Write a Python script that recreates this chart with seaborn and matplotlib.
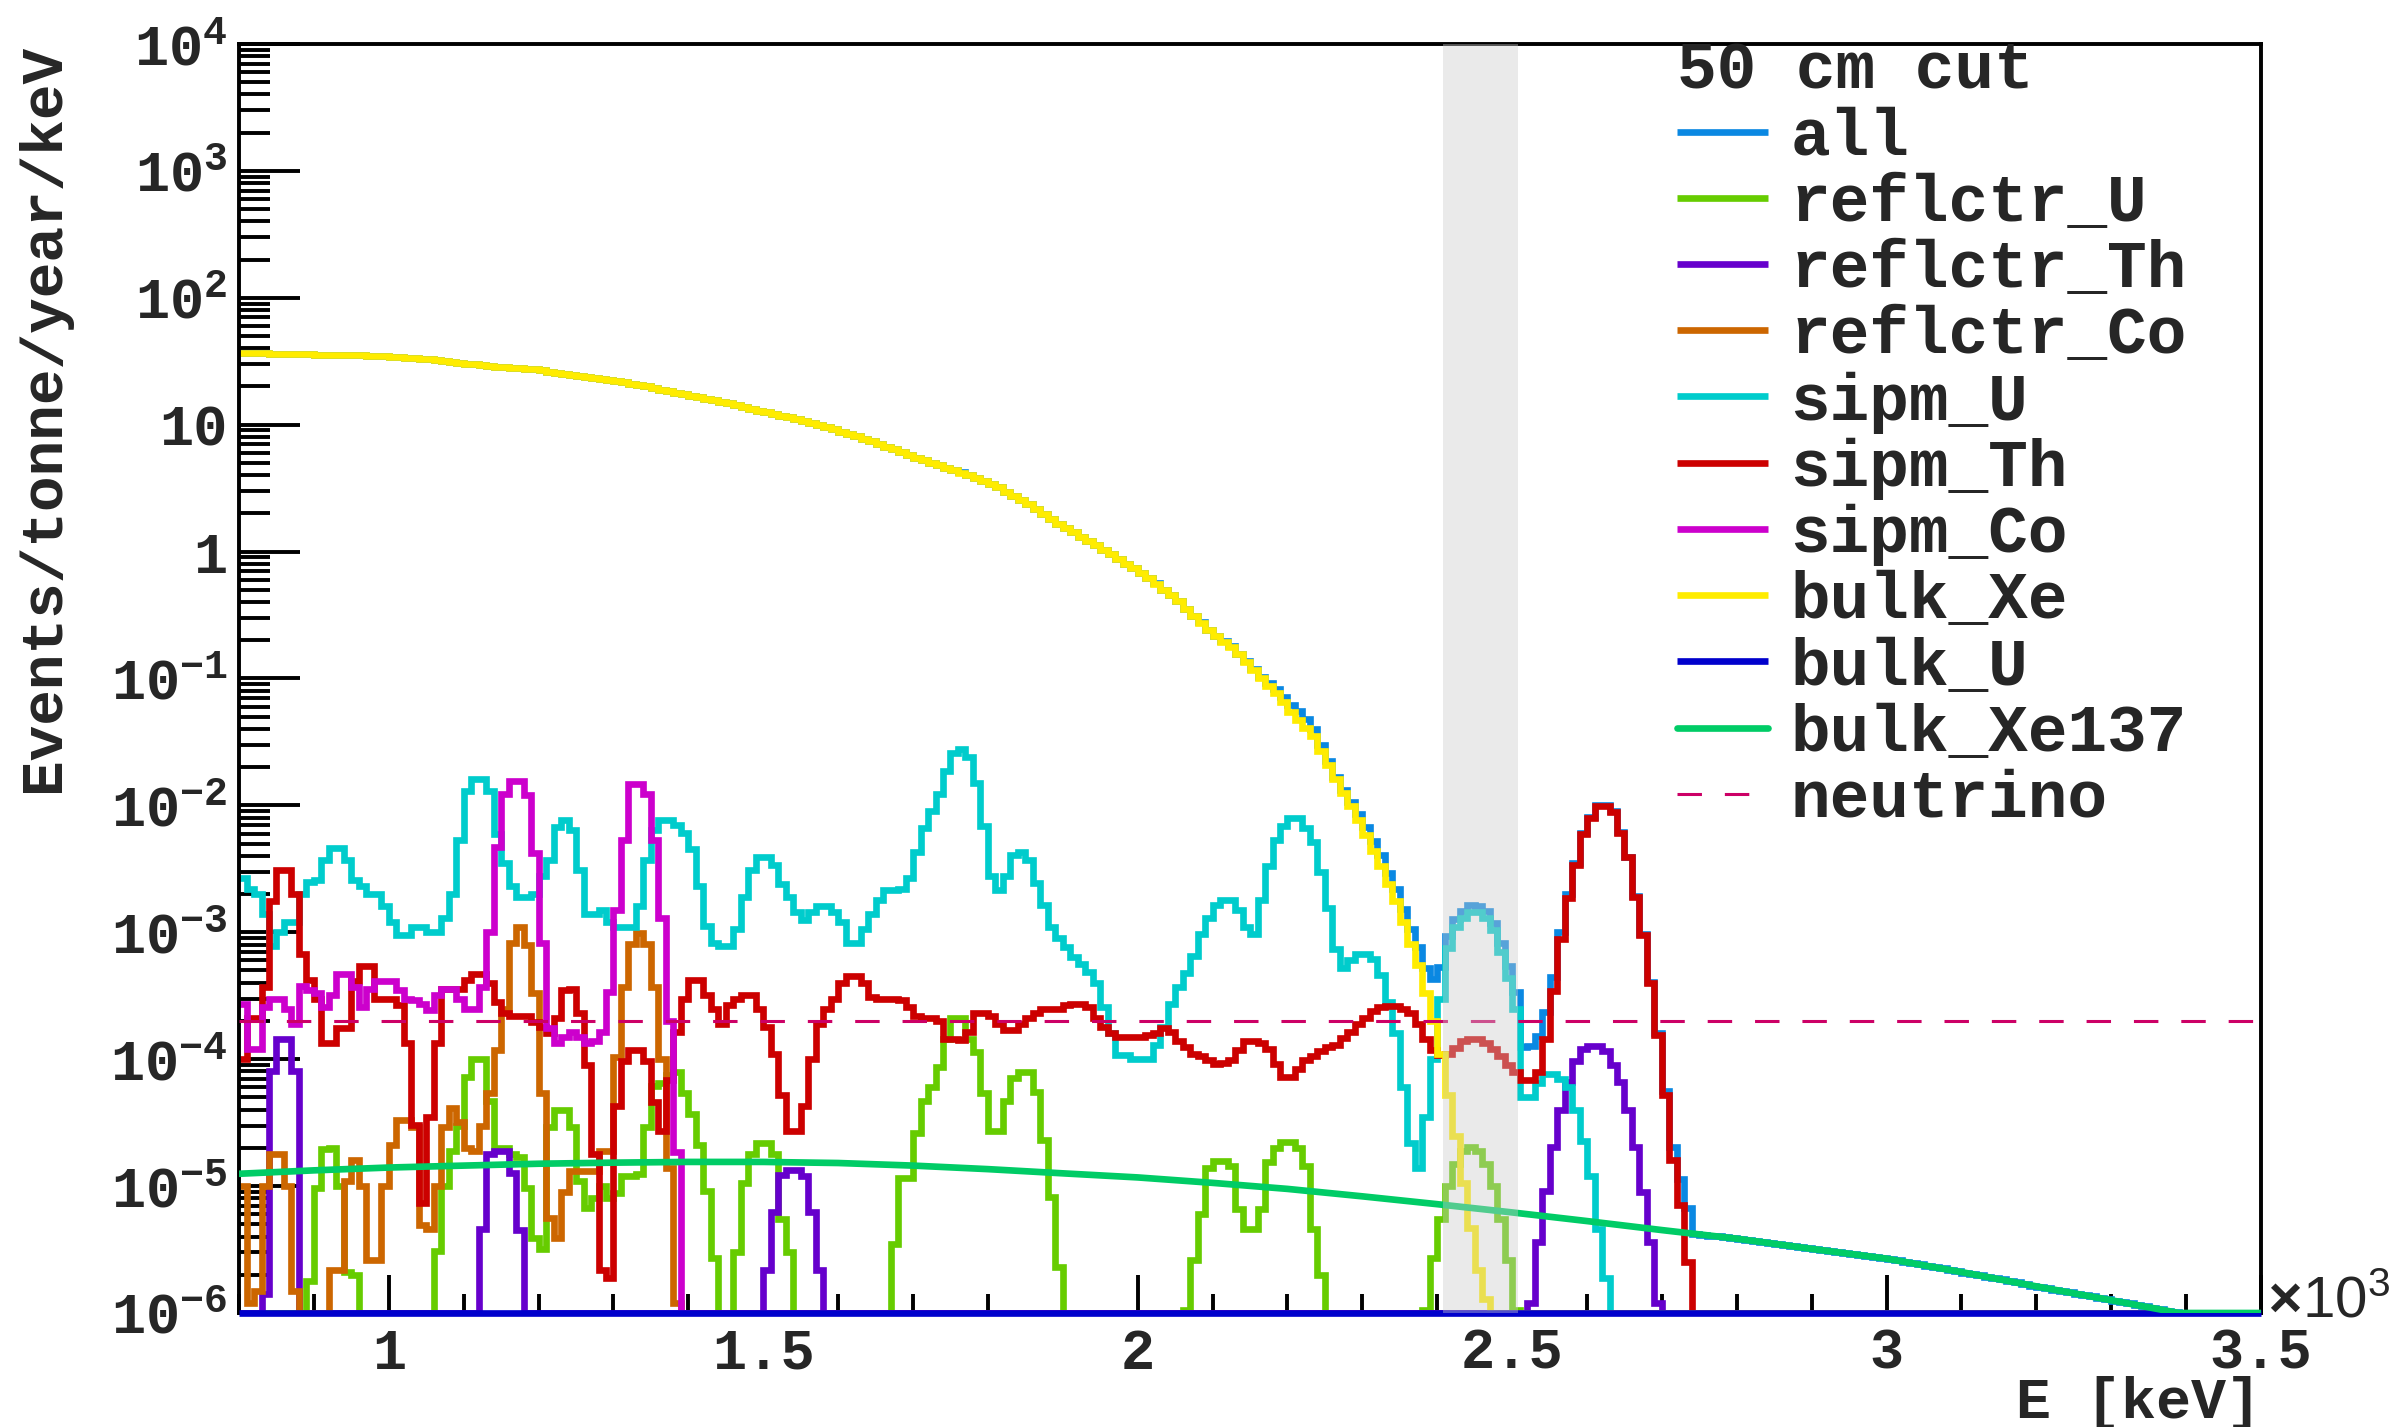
import numpy as np
import pandas as pd
import matplotlib
matplotlib.use("Agg")
import matplotlib.pyplot as plt
from matplotlib import ticker
import seaborn as sns

# ------------------------------------------------------------------ data
E_LO, E_HI, BIN_W = 800, 3500, 10          # keV, 10 keV bins
Y_FLOOR, Y_TOP = 1e-6, 1e4

legend_title = "50 cm cut"
series_names = ["all", "reflctr_U", "reflctr_Th", "reflctr_Co", "sipm_U",
                "sipm_Th", "sipm_Co", "bulk_Xe", "bulk_U", "bulk_Xe137",
                "neutrino"]

# sipm_U, bins starting at 800 keV
sipm_U_start = 800
sipm_U = [
    2.66e-3, 2.2e-3, 2.0e-3, 1.4e-3, 7.8e-4, 1.0e-3, 1.2e-3, 1.2e-3, 2.0e-3, 2.5e-3,
    2.6e-3, 3.7e-3, 4.6e-3, 4.6e-3, 3.7e-3, 2.6e-3, 2.3e-3, 2.0e-3, 2.0e-3, 1.6e-3,
    1.2e-3, 9.5e-4, 9.5e-4, 1.1e-3, 1.1e-3, 1.0e-3, 1.0e-3, 1.3e-3, 2.0e-3, 5.3e-3,
    1.3e-2, 1.6e-2, 1.6e-2, 1.3e-2, 5.9e-3, 3.5e-3, 2.3e-3, 1.9e-3, 1.9e-3, 2.0e-3,
    2.8e-3, 3.7e-3, 6.7e-3, 7.6e-3, 6.4e-3, 3.1e-3, 1.4e-3, 1.4e-3, 1.5e-3, 1.2e-3,
    1.1e-3, 1.1e-3, 1.1e-3, 1.6e-3, 3.7e-3, 6.4e-3, 7.6e-3, 7.6e-3, 7.0e-3, 6.1e-3,
    4.5e-3, 2.3e-3, 1.13e-3, 8.3e-4, 7.8e-4, 7.8e-4, 1.06e-3, 1.9e-3, 3.1e-3, 3.9e-3,
    3.9e-3, 3.4e-3, 2.4e-3, 1.9e-3, 1.45e-3, 1.25e-3, 1.45e-3, 1.6e-3, 1.6e-3, 1.45e-3,
    1.2e-3, 8.3e-4, 8.3e-4, 1.06e-3, 1.4e-3, 1.8e-3, 2.15e-3, 2.15e-3, 2.2e-3, 2.7e-3,
    4.3e-3, 6.6e-3, 9.1e-3, 1.24e-2, 1.88e-2, 2.6e-2, 2.8e-2, 2.4e-2, 1.5e-2, 6.9e-3,
    2.8e-3, 2.15e-3, 2.8e-3, 4.1e-3, 4.3e-3, 3.7e-3, 2.45e-3, 1.65e-3, 1.1e-3, 9.0e-4,
    7.6e-4, 6.4e-4, 5.6e-4, 4.9e-4, 4.0e-4, 2.6e-4, 1.6e-4, 1.07e-4, 1.07e-4, 1.0e-4,
    1.0e-4, 1.0e-4, 1.3e-4, 1.8e-4, 2.7e-4, 3.7e-4, 4.8e-4, 6.5e-4, 9.7e-4, 1.3e-3,
    1.63e-3, 1.78e-3, 1.78e-3, 1.5e-3, 1.1e-3, 9.7e-4, 1.78e-3, 3.3e-3, 5.3e-3, 6.9e-3,
    7.9e-3, 7.9e-3, 6.6e-3, 5.1e-3, 3.0e-3, 1.56e-3, 7.4e-4, 5.2e-4, 6.0e-4, 6.8e-4,
    6.8e-4, 6.2e-4, 4.6e-4, 2.8e-4, 1.6e-4, 6.0e-5, 2.2e-5, 1.4e-5, 3.5e-5, 1.0e-4,
    3.0e-4, 7.5e-4, 1.1e-3, 1.3e-3, 1.45e-3, 1.45e-3, 1.3e-3, 1.05e-3, 7.0e-4, 4.4e-4,
    2.5e-4, 5.0e-5, 5.0e-5, 6.5e-5, 7.6e-5, 7.6e-5, 7.0e-5, 6.0e-5, 4.0e-5, 2.26e-5,
    1.2e-5, 4.6e-6, 1.9e-6,
]

sipm_Th_start = 800
sipm_Th = [
    1.0e-4, 2.1e-4, 2.1e-4, 3.7e-4, 1.75e-3, 3.1e-3, 3.1e-3, 2.0e-3, 6.8e-4, 4.2e-4,
    3.0e-4, 1.35e-4, 1.35e-4, 1.75e-4, 1.75e-4, 4.1e-4, 5.4e-4, 5.4e-4, 3.0e-4, 3.0e-4,
    3.0e-4, 2.65e-4, 1.35e-4, 3.05e-5, 7.4e-6, 3.5e-5, 1.35e-4, 3.6e-4, 3.6e-4, 3.6e-4,
    4.2e-4, 4.7e-4, 4.7e-4, 4.0e-4, 2.8e-4, 2.3e-4, 2.2e-4, 2.2e-4, 2.2e-4, 1.95e-4,
    1.8e-4, 1.6e-4, 2.1e-4, 3.5e-4, 3.6e-4, 2.3e-4, 9.0e-5, 1.8e-5, 2.2e-6, 1.9e-6,
    4.3e-5, 9.6e-5, 1.18e-4, 1.18e-4, 9.6e-5, 4.6e-5, 2.7e-5, 6.9e-5, 1.65e-4, 3.0e-4,
    4.2e-4, 4.2e-4, 3.2e-4, 2.5e-4, 1.9e-4, 2.65e-4, 3.0e-4, 3.2e-4, 3.2e-4, 2.5e-4,
    1.8e-4, 1.1e-4, 5.2e-5, 2.7e-5, 2.7e-5, 4.3e-5, 1.0e-4, 1.9e-4, 2.5e-4, 3.0e-4,
    4.0e-4, 4.55e-4, 4.55e-4, 4.0e-4, 3.1e-4, 3.0e-4, 3.0e-4, 3.0e-4, 2.9e-4, 2.6e-4,
    2.2e-4, 2.1e-4, 2.1e-4, 2.0e-4, 1.45e-4, 1.45e-4, 1.42e-4, 1.65e-4, 2.3e-4, 2.3e-4,
    2.2e-4, 1.9e-4, 1.7e-4, 1.7e-4, 1.9e-4, 2.1e-4, 2.3e-4, 2.5e-4, 2.5e-4, 2.5e-4,
    2.65e-4, 2.7e-4, 2.7e-4, 2.6e-4, 2.1e-4, 1.8e-4, 1.6e-4, 1.5e-4, 1.5e-4, 1.5e-4,
    1.5e-4, 1.55e-4, 1.6e-4, 1.75e-4, 1.65e-4, 1.4e-4, 1.25e-4, 1.1e-4, 1.05e-4, 9.9e-5,
    9.1e-5, 9.3e-5, 9.8e-5, 1.18e-4, 1.38e-4, 1.4e-4, 1.35e-4, 1.2e-4, 9.1e-5, 7.3e-5,
    7.3e-5, 8.3e-5, 9.9e-5, 1.05e-4, 1.15e-4, 1.25e-4, 1.3e-4, 1.47e-4, 1.65e-4, 1.9e-4,
    2.1e-4, 2.4e-4, 2.6e-4, 2.64e-4, 2.64e-4, 2.5e-4, 2.3e-4, 1.9e-4, 1.45e-4, 1.18e-4,
    1.08e-4, 1.1e-4, 1.22e-4, 1.38e-4, 1.45e-4, 1.45e-4, 1.35e-4, 1.2e-4, 1.05e-4, 9.0e-5,
    7.9e-5, 6.9e-5, 6.9e-5, 7.9e-5, 1.45e-4, 3.45e-4, 8.9e-4, 1.86e-3, 3.4e-3, 5.9e-3,
    8.0e-3, 9.9e-3, 9.9e-3, 8.9e-3, 6.1e-3, 3.9e-3, 1.9e-3, 9.6e-4, 3.95e-4, 1.55e-4,
    5.2e-5, 1.6e-5, 7.1e-6, 2.5e-6,
]

sipm_Co_start = 800
sipm_Co = [
    2.7e-4, 1.2e-4, 1.2e-4, 2.6e-4, 3.0e-4, 3.0e-4, 2.5e-4, 1.9e-4, 3.8e-4, 3.5e-4,
    3.3e-4, 2.6e-4, 3.2e-4, 4.7e-4, 4.7e-4, 3.7e-4, 2.6e-4, 3.6e-4, 4.1e-4, 4.1e-4,
    4.1e-4, 3.5e-4, 3.0e-4, 2.9e-4, 2.7e-4, 2.45e-4, 3.2e-4, 3.6e-4, 3.6e-4, 3.0e-4,
    2.5e-4, 2.5e-4, 3.7e-4, 1.0e-3, 4.7e-3, 1.24e-2, 1.57e-2, 1.57e-2, 1.2e-2, 4.2e-3,
    8.3e-4, 1.77e-4, 1.35e-4, 1.5e-4, 1.65e-4, 1.5e-4, 1.35e-4, 1.4e-4, 1.65e-4, 3.4e-4,
    1.5e-3, 5.3e-3, 1.47e-2, 1.47e-2, 1.24e-2, 5.3e-3, 1.3e-3, 2.0e-4, 1.85e-5,
]

reflctr_Co_start = 800
reflctr_Co = [
    1.0e-5, 1.2e-6, 1.5e-6, 1.0e-5, 1.8e-5, 1.8e-5, 1.0e-5, 1.5e-6, 0.0, 0.0,
    0.0, 0.0, 2.2e-6, 2.2e-6, 1.1e-5, 1.6e-5, 1.0e-5, 2.6e-6, 2.6e-6, 1.0e-5,
    2.1e-5, 3.3e-5, 3.3e-5, 2.9e-5, 4.9e-6, 4.6e-6, 1.0e-5, 2.9e-5, 4.1e-5, 3.2e-5,
    2.0e-5, 1.9e-5, 3.0e-5, 5.4e-5, 1.18e-4, 2.5e-4, 8.3e-4, 1.1e-3, 8.0e-4, 3.3e-4,
    5.4e-5, 5.6e-6, 3.9e-6, 9.0e-6, 1.32e-5, 1.32e-5, 1.32e-5, 1.32e-5, 1.9e-5, 1.9e-5,
    1.04e-4, 3.7e-4, 8.1e-4, 9.8e-4, 8.1e-4, 3.7e-4, 1.0e-4, 1.4e-5, 1.2e-6,
]

reflctr_Th_start = 830
reflctr_Th = (
    [1.4e-6, 8.1e-5, 1.44e-4, 1.44e-4, 8.1e-5]
    + [0.0] * 24
    + [4.6e-6, 1.78e-5, 1.9e-5, 1.9e-5, 1.27e-5, 4.5e-6]
    + [0.0] * 32
    + [2.2e-6, 6.3e-6, 1.23e-5, 1.35e-5, 1.35e-5, 1.2e-5, 6.3e-6, 2.2e-6]
    + [0.0] * 94
    + [1.2e-6, 3.65e-6, 9.1e-6, 2.05e-5, 4.0e-5, 6.6e-5, 9.6e-5, 1.2e-4, 1.26e-4,
       1.26e-4, 1.15e-4, 9.0e-5, 6.6e-5, 4.0e-5, 2.05e-5, 9.0e-6, 3.65e-6, 1.2e-6]
)

reflctr_U_start = 890
reflctr_U = [
    1.8e-6,
    9.6e-6, 1.97e-5, 2.0e-5, 1.0e-5, 2.1e-6, 2.0e-6, 0.0, 0.0, 0.0, 0.0,
    0.0, 0.0, 0.0, 0.0, 0.0, 0.0, 3.1e-6, 1.0e-5, 1.9e-5, 3.0e-5,
    7.3e-5, 1.0e-4, 1.0e-4, 4.7e-5, 2.0e-5, 2.0e-5, 1.8e-5, 1.7e-5, 9.6e-6, 3.9e-6,
    3.2e-6, 2.9e-5, 4.0e-5, 4.0e-5, 2.9e-5, 1.1e-5, 6.7e-6, 8.0e-6, 1.0e-5, 8.0e-6,
    8.8e-6, 1.2e-5, 1.2e-5, 1.25e-5, 2.9e-5, 6.2e-5, 6.5e-5, 7.5e-5, 7.9e-5, 5.4e-5,
    3.7e-5, 2.1e-5, 9.1e-6, 2.7e-6, 0.0, 0.0, 3.0e-6, 1.06e-5, 1.8e-5, 2.2e-5,
    2.2e-5, 1.8e-5, 5.5e-6, 3.0e-6, 0.0, 0.0, 0.0, 0.0, 0.0, 0.0,
    0.0, 0.0, 0.0, 0.0, 0.0, 0.0, 0.0, 3.5e-6, 1.15e-5, 1.15e-5,
    2.6e-5, 4.7e-5, 6.0e-5, 8.7e-5, 1.44e-4, 2.1e-4, 2.1e-4, 1.44e-4, 1.14e-4, 5.4e-5,
    2.7e-5, 2.7e-5, 4.7e-5, 7.1e-5, 7.9e-5, 7.9e-5, 5.5e-5, 2.3e-5, 8.2e-6, 2.3e-6,
    0.0, 0.0, 0.0, 0.0, 0.0, 0.0, 0.0, 0.0, 0.0, 0.0,
    0.0, 0.0, 0.0, 0.0, 0.0, 0.0, 1.05e-6, 2.6e-6, 6.0e-6, 1.4e-5,
    1.58e-5, 1.58e-5, 1.44e-5, 6.6e-6, 4.6e-6, 4.6e-6, 6.6e-6, 1.55e-5, 2.0e-5, 2.24e-5,
    2.24e-5, 2.0e-5, 1.45e-5, 4.6e-6, 2.0e-6, 1.0e-6, 0.0, 0.0, 0.0, 0.0,
    0.0, 0.0, 0.0, 0.0, 0.0, 0.0, 0.0, 0.0, 1.05e-6, 2.7e-6,
    5.5e-6, 1.0e-5, 1.5e-5, 1.9e-5, 2.05e-5, 1.9e-5, 1.5e-5, 1.0e-5, 5.5e-6, 2.6e-6,
    1.05e-6,
]

bulk_Xe_start = 800
bulk_Xe = [
    36.5, 36.5, 36.4, 36.4, 36.3, 36.2, 36.1, 36.0, 35.9, 35.8,
    35.7, 35.6, 35.5, 35.4, 35.3, 35.2, 35.1, 35.0, 34.8, 34.5,
    34.2, 33.9, 33.6, 33.3, 33.0, 32.7, 32.2, 31.7, 31.2, 30.8,
    30.3, 29.9, 29.4, 29.0, 28.7, 28.4, 28.1, 27.8, 27.6, 27.3,
    26.8, 26.2, 25.7, 25.2, 24.7, 24.2, 23.7, 23.2, 22.8, 22.3,
    21.9, 21.5, 21.0, 20.6, 20.0, 19.5, 18.9, 18.4, 17.9, 17.4,
    16.9, 16.5, 16.0, 15.6, 15.2, 14.8, 14.3, 13.8, 13.4, 12.9,
    12.5, 12.1, 11.7, 11.4, 11.0, 10.7, 10.3, 10.0, 9.6, 9.2,
    8.8, 8.45, 8.1, 7.7, 7.4, 7.05, 6.7, 6.4, 6.1, 5.8,
    5.5, 5.25, 5.0, 4.78, 4.57, 4.37, 4.18, 4.0, 3.78, 3.58,
    3.38, 3.2, 2.96, 2.74, 2.54, 2.35, 2.15, 1.98, 1.81, 1.66,
    1.53, 1.42, 1.31, 1.21, 1.12, 1.03, 0.95, 0.87, 0.80, 0.74,
    0.68, 0.62, 0.56, 0.50, 0.455, 0.41, 0.355, 0.31, 0.275, 0.24,
    0.215, 0.195, 0.177, 0.155, 0.136, 0.117, 0.100, 0.088, 0.077, 0.065,
    0.054, 0.047, 0.041, 0.035, 0.027, 0.0207, 0.0160, 0.0125, 0.0098, 0.0076,
    0.0058, 0.0044, 0.0033, 0.0024, 0.00175, 0.0012, 8.1e-4, 5.5e-4, 3.3e-4, 2.0e-4,
    1.1e-4, 5.2e-5, 2.5e-5, 1.05e-5, 4.7e-6, 2.2e-6, 1.3e-6,
]

bulk_U_start = 800
bulk_U = [0.0] * 270          # nothing above the 1e-6 floor

# bulk_Xe137: smooth spectrum, read every 100 keV
xe137_E = [800, 900, 1000, 1100, 1200, 1300, 1400, 1500, 1600, 1700, 1800, 1900,
           2000, 2100, 2200, 2300, 2400, 2500, 2600, 2700, 2800, 2900, 3000, 3100,
           3200, 3300, 3390, 3400, 3500]
xe137_val = [1.25e-5, 1.33e-5, 1.40e-5, 1.45e-5, 1.50e-5, 1.53e-5, 1.55e-5, 1.55e-5,
             1.52e-5, 1.45e-5, 1.36e-5, 1.26e-5, 1.17e-5, 1.06e-5, 9.5e-6, 8.3e-6,
             7.2e-6, 6.2e-6, 5.3e-6, 4.5e-6, 3.85e-6, 3.2e-6, 2.68e-6, 2.1e-6,
             1.62e-6, 1.26e-6, 1.0e-6, 0.0, 0.0]

neutrino_level = 2.0e-4
roi_lo, roi_hi = 2408, 2508

x_tick_values = [1000, 1500, 2000, 2500, 3000, 3500]
x_tick_labels = ["1", "1.5", "2", "2.5", "3", "3.5"]
y_tick_values = [1e-6, 1e-5, 1e-4, 1e-3, 1e-2, 1e-1, 1, 10, 1e2, 1e3, 1e4]
y_tick_labels = [r"$\mathregular{10^{-6}}$", r"$\mathregular{10^{-5}}$",
                 r"$\mathregular{10^{-4}}$", r"$\mathregular{10^{-3}}$",
                 r"$\mathregular{10^{-2}}$", r"$\mathregular{10^{-1}}$",
                 "1", "10", r"$\mathregular{10^{2}}$", r"$\mathregular{10^{3}}$",
                 r"$\mathregular{10^{4}}$"]

colors = {
    "all": "#0a88e2", "reflctr_U": "#66cc00", "reflctr_Th": "#6600cc",
    "reflctr_Co": "#cc6600", "sipm_U": "#00cccc", "sipm_Th": "#cc0000",
    "sipm_Co": "#cc00cc", "bulk_Xe": "#ffec00", "bulk_U": "#0000cc",
    "bulk_Xe137": "#00cc66", "neutrino": "#cc0066",
}

# ------------------------------------------------------------------ assemble
bin_lo = np.arange(E_LO, E_HI, BIN_W)
N = len(bin_lo)


def on_grid(start, vals):
    out = np.zeros(N)
    i0 = (start - E_LO) // BIN_W
    assert i0 + len(vals) <= N
    out[i0:i0 + len(vals)] = vals
    return out


hist = {
    "reflctr_U": on_grid(reflctr_U_start, reflctr_U),
    "reflctr_Th": on_grid(reflctr_Th_start, reflctr_Th),
    "reflctr_Co": on_grid(reflctr_Co_start, reflctr_Co),
    "sipm_U": on_grid(sipm_U_start, sipm_U),
    "sipm_Th": on_grid(sipm_Th_start, sipm_Th),
    "sipm_Co": on_grid(sipm_Co_start, sipm_Co),
    "bulk_Xe": on_grid(bulk_Xe_start, bulk_Xe),
    "bulk_U": on_grid(bulk_U_start, bulk_U),
}
# "all" = sum of every component (Xe137 taken at the bin centres)
xe137_at_bins = np.interp(bin_lo + BIN_W / 2, xe137_E, xe137_val)
hist["all"] = sum(hist.values()) + xe137_at_bins

# ------------------------------------------------------------------ style
sns.set_theme(style="white")
plt.rcParams.update({
    "font.family": ["Liberation Mono", "DejaVu Sans"],
    "font.weight": "bold",
    "axes.labelweight": "bold",
    "axes.linewidth": 1.4,
    "axes.edgecolor": "black",
    "axes.facecolor": "white",
    "figure.facecolor": "white",
    "mathtext.fontset": "custom",
    "mathtext.rm": "Liberation Mono:bold",
    "mathtext.bf": "Liberation Mono:bold",
    "mathtext.it": "Liberation Mono:bold",
})

fig = plt.figure(figsize=(12, 7.135), dpi=200)
ax = fig.add_axes([0.0996, 0.0799, 0.8425, 0.8893])
ax.set_yscale("log")
ax.set_xlim(E_LO, E_HI)
ax.set_ylim(Y_FLOOR, Y_TOP)

LW = 2.4
handles = {}


def draw_hist(name, z):
    vals = hist[name]
    x = np.append(bin_lo, E_HI)
    y = np.clip(np.append(vals, vals[-1]), Y_FLOOR, None)
    df = pd.DataFrame({"E": x, "rate": y})
    sns.lineplot(data=df, x="E", y="rate", ax=ax, color=colors[name], lw=LW,
                 drawstyle="steps-post", estimator=None, sort=False,
                 legend=False, zorder=z, solid_joinstyle="miter",
                 solid_capstyle="butt")
    handles[name] = ax.lines[-1]


draw_hist("all", 2.0)
for k, nm in enumerate(["reflctr_U", "reflctr_Th", "reflctr_Co", "sipm_U",
                        "sipm_Th", "sipm_Co", "bulk_Xe"]):
    draw_hist(nm, 2.1 + 0.01 * k)
draw_hist("bulk_U", 2.6)
handles["bulk_U"].set_clip_on(False)

xe_df = pd.DataFrame({"E": xe137_E, "rate": np.clip(xe137_val, Y_FLOOR, None)})
sns.lineplot(data=xe_df, x="E", y="rate", ax=ax, color=colors["bulk_Xe137"],
             lw=LW, estimator=None, sort=False, legend=False, zorder=2.7)
handles["bulk_Xe137"] = ax.lines[-1]

nu_df = pd.DataFrame({"E": [E_LO, E_HI], "rate": [neutrino_level] * 2})
sns.lineplot(data=nu_df, x="E", y="rate", ax=ax, color=colors["neutrino"],
             lw=1.1, estimator=None, legend=False, zorder=2.8)
handles["neutrino"] = ax.lines[-1]
handles["neutrino"].set_dashes([8.0, 7.5])

# energy window band (semi-transparent, drawn over the curves)
ax.axvspan(roi_lo, roi_hi, color="#cccccc", alpha=0.4, lw=0, zorder=4)

# ------------------------------------------------------------------ axes
ax.set_xticks(x_tick_values)
ax.set_xticklabels(x_tick_labels)
ax.xaxis.set_minor_locator(ticker.MultipleLocator(100))
ax.set_yticks(y_tick_values)
ax.set_yticklabels(y_tick_labels)
ax.yaxis.set_minor_locator(ticker.LogLocator(base=10, subs=np.arange(2, 10),
                                             numticks=100))
ax.yaxis.set_minor_formatter(ticker.NullFormatter())

ax.tick_params(which="both", direction="in", bottom=True, left=True,
               top=False, right=False, width=1.4, color="black")
ax.tick_params(axis="y", which="major", length=22, pad=4, labelsize=20.5)
ax.tick_params(axis="y", which="minor", length=11)
ax.tick_params(axis="x", which="major", length=13.7, pad=5, labelsize=20.5)
ax.tick_params(axis="x", which="minor", length=6.8)
for sp in ax.spines.values():
    sp.set_visible(True)
    sp.set_color("black")
    sp.set_linewidth(1.4)

ax.set_ylabel("Events/tonne/year/keV", fontsize=21.4, fontweight="bold",
              loc="top")
ax.yaxis.set_label_coords(-0.083, 1.0)
ax.set_xlabel("E [keV]", fontsize=21.0, fontweight="bold", loc="right")
ax.xaxis.set_label_coords(1.0, -0.05)

ax.text(1.003, -0.013, r"$\times\mathregular{10^{3}}$", transform=ax.transAxes,
        ha="left", va="bottom", fontsize=21, family="Liberation Sans",
        fontweight="normal")

leg_fs = 23.8
leg = ax.legend([handles[n] for n in series_names], series_names,
                title=legend_title, loc="upper left",
                bbox_to_anchor=(0.711, 1.003), frameon=False,
                fontsize=leg_fs, title_fontsize=leg_fs,
                handlelength=33 / leg_fs, handletextpad=7.9 / leg_fs,
                labelspacing=0.06, borderaxespad=0, borderpad=0,
                alignment="left")
leg.set_zorder(5)

fig.savefig("out.png", dpi=200)
